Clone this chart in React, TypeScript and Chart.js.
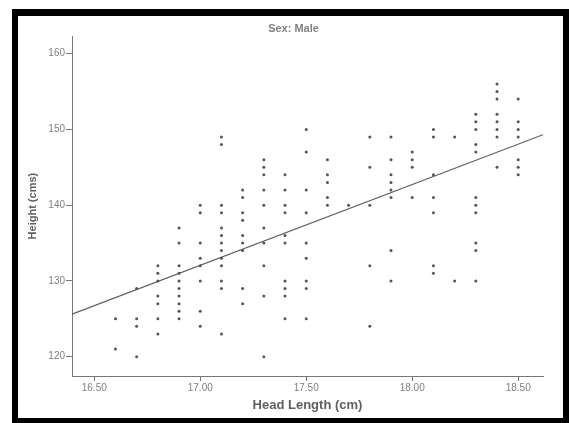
import React, { useEffect, useRef } from "react";
import { Chart, registerables } from "chart.js";

Chart.register(...registerables);

const columnLengths = [16.6, 16.7, 16.8, 16.9, 17.0, 17.1, 17.2, 17.3, 17.4, 17.5, 17.6, 17.7, 17.8, 17.9, 18.0, 18.1, 18.2, 18.3, 18.4, 18.5];
const columnHeights = [
  [125, 121],
  [129, 125, 124, 120],
  [132, 131, 130, 128, 127, 125, 123],
  [137, 135, 132, 131, 130, 129, 128, 127, 126, 125],
  [140, 139, 135, 133, 132, 130, 126, 124],
  [149, 148, 140, 139, 137, 136, 135, 134, 133, 132, 130, 129, 123],
  [142, 141, 139, 138, 136, 135, 134, 129, 127],
  [146, 145, 144, 142, 140, 137, 135, 132, 128, 120],
  [144, 142, 140, 139, 136, 135, 130, 129, 128, 125],
  [150, 147, 142, 139, 135, 133, 130, 129, 125],
  [146, 144, 143, 141, 140],
  [140],
  [149, 145, 140, 132, 124],
  [149, 146, 144, 143, 142, 141, 134, 130],
  [147, 146, 145, 141],
  [150, 149, 144, 141, 139, 132, 131],
  [149, 130],
  [152, 151, 150, 148, 147, 141, 140, 139, 135, 134, 130],
  [156, 155, 154, 152, 151, 150, 149, 145],
  [154, 151, 150, 149, 146, 145, 144],
];
const fitLengths = [16.395, 18.617];
const fitHeights = [125.6, 149.3];
const xTicks = [16.5, 17.0, 17.5, 18.0, 18.5];
const yTicks = [120, 130, 140, 150, 160];

const framePlugin = {
  id: "scanFrame",
  afterDraw(chart: any) {
    const ctx = chart.ctx;
    const w = chart.width;
    const h = chart.height;
    ctx.save();
    ctx.fillStyle = "#000";
    ctx.fillRect(12, 9, w - 12, 7); // top
    ctx.fillRect(12, 9, 6, h - 9); // left
    ctx.fillRect(w - 6, 9, 6, h - 9); // right
    ctx.fillRect(12, h - 5, w - 12, 5); // bottom
    ctx.restore();
  },
};

export default function App() {
  const ref = useRef<HTMLCanvasElement>(null);
  useEffect(() => {
    if (!ref.current) return;
    const points: { x: number; y: number }[] = [];
    columnLengths.forEach((x, i) => columnHeights[i].forEach((y) => points.push({ x, y })));
    const fit = fitLengths.map((x, i) => ({ x, y: fitHeights[i] }));
    const font = "'Liberation Sans', Arial, sans-serif";
    const chart = new Chart(ref.current, {
      type: "scatter",
      data: {
        datasets: [
          {
            data: points,
            pointRadius: 1.5,
            pointBorderWidth: 0,
            pointBackgroundColor: "#555",
            showLine: false,
          },
          {
            type: "line",
            data: fit,
            borderColor: "#5a5a5a",
            borderWidth: 1.2,
            pointRadius: 0,
            fill: false,
          } as any,
        ],
      },
      plugins: [framePlugin],
      options: {
        responsive: false,
        animation: false,
        layout: { padding: { left: 18, right: 0, top: 16, bottom: 0 } },
        plugins: {
          legend: { display: false },
          tooltip: { enabled: false },
          title: {
            display: true,
            text: "Sex: Male",
            color: "#808080",
            font: { family: font, size: 11, weight: "bold", lineHeight: 1.2 },
            padding: { top: 6, bottom: 1 },
          },
        },
        scales: {
          x: {
            type: "linear",
            min: 16.395,
            max: 18.617,
            afterBuildTicks: (s: any) => {
              s.ticks = xTicks.map((v) => ({ value: v }));
            },
            afterFit: (s: any) => {
              s.height = 47;
            },
            grid: { drawOnChartArea: false, drawTicks: true, tickLength: 5, color: "#777" },
            border: { display: true, color: "#777", width: 1 },
            ticks: {
              color: "#808080",
              padding: 1,
              font: { family: font, size: 10 },
              callback: (v: any) => Number(v).toFixed(2),
            },
            title: {
              display: true,
              text: "Head Length (cm)",
              color: "#606060",
              font: { family: font, size: 13, weight: "bold", lineHeight: 1.2 },
              padding: { top: 0, bottom: 10 },
            },
          },
          y: {
            type: "linear",
            min: 117.45,
            max: 162.3,
            afterBuildTicks: (s: any) => {
              s.ticks = yTicks.map((v) => ({ value: v }));
            },
            afterFit: (s: any) => {
              s.width = 54;
            },
            grid: { drawOnChartArea: false, drawTicks: true, tickLength: 6, color: "#777" },
            border: { display: true, color: "#777", width: 1 },
            ticks: {
              color: "#808080",
              padding: 1,
              font: { family: font, size: 10 },
              callback: (v: any) => String(v),
            },
            title: {
              display: true,
              text: "Height (cms)",
              color: "#606060",
              font: { family: font, size: 11, weight: "bold", lineHeight: 1.2 },
              padding: { top: 8, bottom: 0 },
            },
          },
          y2: {
            type: "linear",
            position: "right",
            display: true,
            grid: { display: false, drawTicks: false },
            border: { display: false },
            ticks: { display: false },
            afterFit: (s: any) => {
              s.width = 26;
            },
          },
        },
      },
    });
    return () => chart.destroy();
  }, []);
  return (
    <div style={{ position: "fixed", left: 0, top: 0, width: 569, height: 423, background: "#fff", overflow: "hidden" }}>
      <canvas ref={ref} width={569} height={423} style={{ display: "block", width: 569, height: 423 }} />
    </div>
  );
}
